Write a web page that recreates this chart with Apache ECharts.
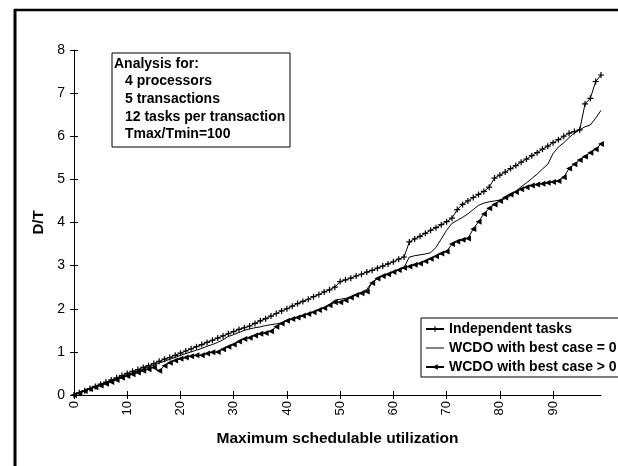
<!DOCTYPE html>
<html>
<head>
<meta charset="utf-8">
<script src="https://cdn.jsdelivr.net/npm/echarts@6/dist/echarts.min.js"></script>
<style>
  html, body { margin: 0; padding: 0; background: #fff; }
  #main { width: 618px; height: 466px; }
</style>
</head>
<body>
<div id="main"></div>
<script>
// utilisation 0..99
var utilization = [];
for (var i = 0; i < 100; i++) utilization.push(String(i));

// Independent tasks
var independent = [
  0, 0.05, 0.1, 0.15, 0.2, 0.25, 0.3, 0.35, 0.4, 0.45,
  0.5, 0.55, 0.59, 0.64, 0.68, 0.73, 0.78, 0.83, 0.87, 0.92,
  0.97, 1.02, 1.07, 1.12, 1.17, 1.22, 1.27, 1.32, 1.37, 1.42,
  1.47, 1.52, 1.56, 1.6, 1.66, 1.72, 1.77, 1.83, 1.89, 1.95,
  2.0, 2.06, 2.12, 2.17, 2.22, 2.28, 2.33, 2.39, 2.44, 2.5,
  2.63, 2.67, 2.71, 2.76, 2.8, 2.85, 2.89, 2.94, 2.99, 3.04,
  3.09, 3.15, 3.2, 3.55, 3.62, 3.68, 3.75, 3.82, 3.88, 3.95,
  4.02, 4.1, 4.3, 4.42, 4.5, 4.58, 4.65, 4.72, 4.82, 5.03,
  5.1, 5.17, 5.25, 5.32, 5.4, 5.47, 5.55, 5.62, 5.7, 5.77,
  5.85, 5.92, 6.0, 6.07, 6.11, 6.15, 6.75, 6.88, 7.27, 7.42
];

// WCDO with best case = 0
var wcdoZero = [
  0, 0.05, 0.1, 0.14, 0.19, 0.24, 0.28, 0.33, 0.38, 0.42,
  0.47, 0.51, 0.56, 0.6, 0.65, 0.69, 0.74, 0.78, 0.83, 0.87,
  0.92, 0.96, 1.0, 1.04, 1.08, 1.13, 1.17, 1.22, 1.28, 1.36,
  1.4, 1.45, 1.5, 1.53, 1.56, 1.58, 1.61, 1.63, 1.65, 1.67,
  1.72, 1.76, 1.8, 1.84, 1.88, 1.92, 1.97, 2.02, 2.1, 2.2,
  2.22, 2.24, 2.28, 2.33, 2.38, 2.45, 2.62, 2.7, 2.76, 2.8,
  2.85, 2.9, 2.96, 3.2, 3.23, 3.25, 3.27, 3.3, 3.42, 3.62,
  3.82, 3.98, 4.05, 4.12, 4.2, 4.3, 4.4, 4.45, 4.48, 4.5,
  4.52, 4.55, 4.62, 4.72, 4.83, 4.92, 5.02, 5.12, 5.24, 5.35,
  5.6, 5.75, 5.85, 5.97, 6.07, 6.15, 6.22, 6.26, 6.42, 6.6
];

// WCDO with best case > 0
var wcdoPositive = [
  0, 0.04, 0.09, 0.14, 0.18, 0.22, 0.26, 0.3, 0.35, 0.4,
  0.44, 0.48, 0.52, 0.56, 0.6, 0.64, 0.56, 0.68, 0.75, 0.8,
  0.84, 0.87, 0.9, 0.92, 0.92, 0.96, 0.99, 1.0, 1.06, 1.12,
  1.17, 1.24, 1.3, 1.33, 1.38, 1.42, 1.44, 1.48, 1.58, 1.66,
  1.72, 1.76, 1.8, 1.84, 1.88, 1.92, 1.97, 2.02, 2.08, 2.15,
  2.15, 2.2, 2.26, 2.32, 2.36, 2.4, 2.6, 2.7, 2.76, 2.8,
  2.85, 2.9, 2.95, 2.98, 3.02, 3.05, 3.1, 3.16, 3.22, 3.28,
  3.33, 3.5, 3.56, 3.6, 3.63, 3.85, 4.02, 4.2, 4.33, 4.42,
  4.5, 4.58, 4.65, 4.71, 4.77, 4.82, 4.86, 4.88, 4.9, 4.92,
  4.94, 4.96, 5.05, 5.25, 5.35, 5.45, 5.53, 5.62, 5.7, 5.82
];

var seriesNames = ['Independent tasks', 'WCDO with best case = 0', 'WCDO with best case > 0'];
var noteLines = ['Analysis for:', '4 processors', '5 transactions', '12 tasks per transaction', 'Tmax/Tmin=100'];

var font = '"Liberation Sans", Arial, sans-serif';
var chart = echarts.init(document.getElementById('main'));

var noteTexts = [];
for (var k = 0; k < noteLines.length; k++) {
  noteTexts.push({
    type: 'text',
    left: k == 0 ? 114 : 125,
    top: 57 + k * 17.6,
    style: { text: noteLines[k], font: 'bold 14px ' + font, fill: '#000' }
  });
}

var option = {
  animation: false,
  backgroundColor: '#fff',
  grid: { left: 74, right: 17, top: 50, bottom: 71 },
  legend: {
    orient: 'vertical',
    left: 421,
    top: 318,
    width: 196,
    padding: [4, 4, 3, 4],
    itemGap: 5,
    itemWidth: 18,
    itemHeight: 7,
    borderColor: '#000',
    borderWidth: 1,
    backgroundColor: '#fff',
    data: [
      { name: seriesNames[0] },
      { name: seriesNames[1], icon: 'path://M0,0H18V1H0Z' },
      { name: seriesNames[2] }
    ],
    textStyle: { fontFamily: font, fontWeight: 'bold', fontSize: 14, color: '#000' }
  },
  xAxis: [{
    type: 'category',
    data: utilization,
    boundaryGap: false,
    name: 'Maximum schedulable utilization',
    nameLocation: 'middle',
    nameGap: 36,
    nameTextStyle: { fontFamily: font, fontWeight: 'bold', fontSize: 15.5, color: '#000' },
    axisLine: { lineStyle: { color: '#000', width: 1 } },
    axisTick: { interval: 9, length: 4, lineStyle: { color: '#000' } },
    axisLabel: { interval: 9, rotate: 90, fontFamily: font, fontSize: 13, color: '#000', margin: 6 },
    splitLine: { show: false }
  }, {
    type: 'category',
    data: utilization,
    boundaryGap: false,
    position: 'bottom',
    axisLine: { show: false },
    axisTick: { interval: 9, inside: true, length: 4, lineStyle: { color: '#000' } },
    axisLabel: { show: false },
    splitLine: { show: false }
  }],
  yAxis: [{
    type: 'value',
    min: 0,
    max: 8,
    interval: 1,
    name: 'D/T',
    nameLocation: 'middle',
    nameGap: 27,
    nameTextStyle: { fontFamily: font, fontWeight: 'bold', fontSize: 15, color: '#000' },
    axisLine: { show: true, lineStyle: { color: '#000', width: 1 } },
    axisTick: { show: true, length: 4, lineStyle: { color: '#000' } },
    axisLabel: { fontFamily: font, fontSize: 14, color: '#000', margin: 9 },
    splitLine: { show: false }
  }, {
    type: 'value',
    min: 0,
    max: 8,
    interval: 1,
    position: 'left',
    axisLine: { show: false },
    axisTick: { show: true, inside: true, length: 4, lineStyle: { color: '#000' } },
    axisLabel: { show: false },
    splitLine: { show: false }
  }],
  series: [{
    name: seriesNames[0],
    type: 'line',
    data: independent,
    symbol: 'path://M4,0H6V4H10V6H6V10H4V6H0V4H4Z',
    symbolSize: 6,
    showAllSymbol: true,
    lineStyle: { color: '#000', width: 1 },
    itemStyle: { color: '#000' }
  }, {
    name: seriesNames[1],
    type: 'line',
    data: wcdoZero,
    symbol: 'none',
    lineStyle: { color: '#000', width: 1 },
    itemStyle: { color: '#000' }
  }, {
    name: seriesNames[2],
    type: 'line',
    data: wcdoPositive,
    symbol: 'triangle',
    symbolRotate: 90,
    symbolSize: 6,
    showAllSymbol: true,
    lineStyle: { color: '#000', width: 1 },
    itemStyle: { color: '#000' }
  }],
  graphic: [
    { type: 'line', shape: { x1: 14, y1: 10, x2: 618, y2: 10 }, style: { stroke: '#000', lineWidth: 2.5 } },
    { type: 'line', shape: { x1: 15, y1: 9, x2: 15, y2: 466 }, style: { stroke: '#000', lineWidth: 3 } },
    { type: 'rect', shape: { x: 112, y: 53, width: 178, height: 94 }, style: { fill: '#fff', stroke: '#000', lineWidth: 1 } }
  ].concat(noteTexts)
};

chart.setOption(option);
</script>
</body>
</html>
